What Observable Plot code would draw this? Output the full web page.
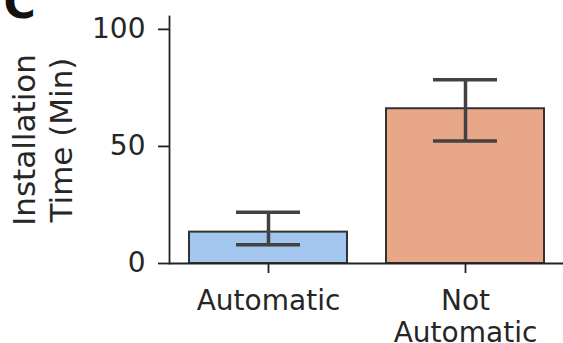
<!DOCTYPE html>
<html>
<head>
<meta charset="utf-8">
<script src="https://cdn.jsdelivr.net/npm/d3@7"></script>
<script src="https://cdn.jsdelivr.net/npm/@observablehq/plot@0.6"></script>
<style>
  html, body { margin: 0; padding: 0; background: white; }
</style>
</head>
<body>
<div id="chart"></div>
<script>
const categories = ["Automatic", "Not Automatic"];
const tickLabels = ["Automatic", "Not\nAutomatic"];
const means = [13.4, 66.1];
const ciLow = [8.0, 52.3];
const ciHigh = [21.9, 78.5];
const barColors = ["#a3c6ef", "#e8a888"];
const yTicks = [0, 50, 100];
const yLabel = "Installation\nTime (Min)";
const panelLabel = "C";

const data = categories.map((c, i) => ({cat: c, mean: means[i], lo: ciLow[i], hi: ciHigh[i]}));

const chart = Plot.plot({
  width: 563,
  height: 343,
  marginLeft: 169,
  marginRight: 0,
  marginTop: 16,
  marginBottom: 80,
  style: {fontFamily: "DejaVu Sans", background: "white", color: "#262626", overflow: "visible"},
  x: {domain: categories, paddingInner: 0.2, paddingOuter: 0.1, axis: null},
  y: {domain: [0, 105.5], axis: null},
  color: {domain: categories, range: barColors},
  marks: [
    Plot.barY(data, {x: "cat", y: "mean", fill: "cat", stroke: "#333", strokeWidth: 2}),
    Plot.ruleX(data, {x: "cat", y1: "lo", y2: "hi", stroke: "#424242", strokeWidth: 3.5}),
    Plot.tickY(data, {x: "cat", y: "lo", insetLeft: 47, insetRight: 47, stroke: "#424242", strokeWidth: 3.5}),
    Plot.tickY(data, {x: "cat", y: "hi", insetLeft: 47, insetRight: 47, stroke: "#424242", strokeWidth: 3.5}),
    Plot.ruleY([0], {stroke: "#222", strokeWidth: 1.8}),
    Plot.frame({anchor: "left", stroke: "#222", strokeWidth: 1.8}),
    Plot.axisY({ticks: yTicks, tickSize: 11, tickPadding: 13, fontSize: 28, label: null, stroke: "#222", strokeWidth: 1.8, fill: "#262626"}),
    Plot.axisX({tickSize: 10, tickPadding: 13, fontSize: 28, label: null, lineHeight: 1.16,
      tickFormat: d => tickLabels[categories.indexOf(d)], stroke: "#222", strokeWidth: 1.8, fill: "#262626"}),
    Plot.text([yLabel], {frameAnchor: "left", rotate: -90, dx: -128, fontSize: 31, lineHeight: 1.2,
      lineAnchor: "middle", textAnchor: "middle", fill: "#262626"}),
    Plot.text([panelLabel], {frameAnchor: "top-left", dx: -166, dy: 1, fontSize: 44, fontWeight: "bold",
      lineAnchor: "bottom", textAnchor: "start", fill: "#111"})
  ]
});
document.getElementById("chart").appendChild(chart);
</script>
</body>
</html>
